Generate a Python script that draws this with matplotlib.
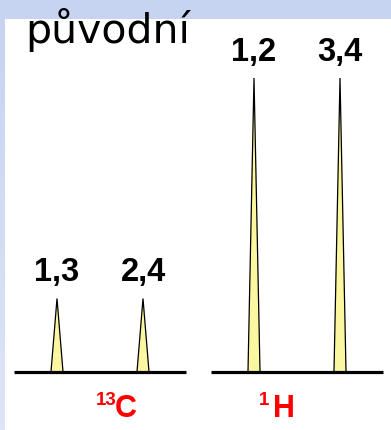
import numpy as np
import matplotlib
matplotlib.use("Agg")
import matplotlib.pyplot as plt
from matplotlib.patches import Rectangle
from matplotlib.colors import LinearSegmentedColormap

# ---- data ----
c_positions = [1.0, 3.0]
c_heights = [1.0, 1.0]
c_labels = ["1,3", "2,4"]
h_positions = [1.0, 3.0]
h_heights = [4.0, 4.0]
h_labels = ["1,2", "3,4"]
title = "původní"
c_mass, c_symbol = "13", "C"
h_mass, h_symbol = "1", "H"

W, H = 391, 431
fig = plt.figure(figsize=(W / 100, H / 100), dpi=100)
fig.patch.set_facecolor("white")

# decorative background: top band and left gradient strip
fig.patches.append(Rectangle((0, 1 - 19.5 / H), 1, 19.5 / H, transform=fig.transFigure,
                             facecolor="#c6d4f2", edgecolor="none", zorder=0))
gax = fig.add_axes([0, 0, 5 / W, 1 - 19.5 / H])
grad = np.linspace(0, 1, 100).reshape(-1, 1)
cm = LinearSegmentedColormap.from_list("g", ["#dde5f7", "#c6d4f2"])
gax.imshow(grad, aspect="auto", cmap=cm, origin="lower")
gax.set_axis_off()

halfw = 0.14
unit_px = 73.5
ymax = 4.5
ax_h = ymax * unit_px / H
base_b = 58 / H
ax_w = 172 / W
xpx = 43.0  # pixels per x unit

def spectrum(left_px, positions, heights, labels, mass, symbol, split_px, mass_gap):
    ax = fig.add_axes([left_px / W, base_b, ax_w, ax_h])
    ax.set_xlim(0, 4)
    ax.set_ylim(0, ymax)
    ax.set_axis_off()
    for x, h, lab in zip(positions, heights, labels):
        ax.fill([x - halfw, x, x + halfw], [0, h, 0], facecolor="#fbf7a0",
                edgecolor="black", linewidth=0.9, zorder=2)
        ax.annotate(lab, (x, h), xytext=(0, 13), textcoords="offset points",
                    ha="center", va="baseline", fontsize=23.5,
                    fontfamily="Liberation Sans", fontweight="bold", color="black",
                    annotation_clip=False)
    ax.plot([0, 4], [0, 0], color="black", linewidth=2.3, clip_on=False, zorder=3,
            solid_capstyle="butt")
    xs = (split_px - left_px) / xpx
    ax.text(xs, -44 / unit_px, symbol, ha="left", va="baseline", fontsize=22,
            fontfamily="Liberation Sans", fontweight="bold", color="#ff0000",
            clip_on=False)
    ax.text(xs - mass_gap / xpx, -32 / unit_px, mass, ha="right", va="baseline",
            fontsize=13.5, fontfamily="Liberation Sans", fontweight="bold",
            color="#ff0000", clip_on=False)
    return ax

spectrum(14, c_positions, c_heights, c_labels, c_mass, c_symbol, 115, -1.5)
spectrum(211, h_positions, h_heights, h_labels, h_mass, h_symbol, 273, 4)

fig.text(25 / W, 1 - 43 / H, title, ha="left", va="baseline", fontsize=29.5,
         fontfamily="DejaVu Sans", color="black")

fig.savefig("out.png", dpi=100)
